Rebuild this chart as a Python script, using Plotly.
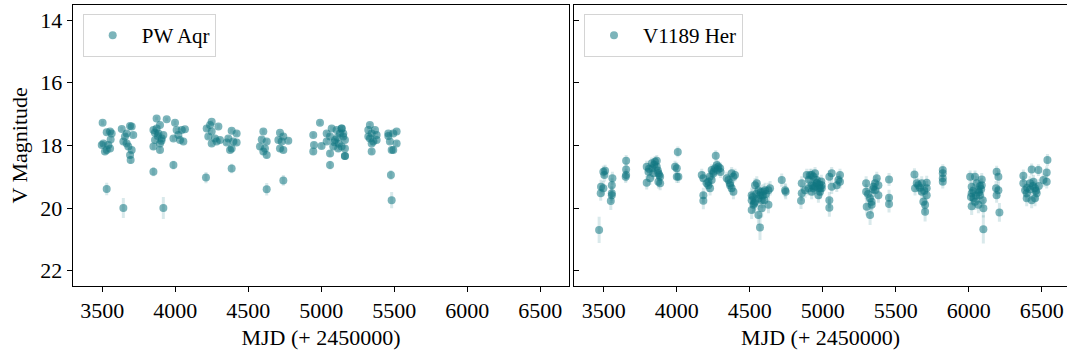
import plotly.graph_objects as go

# ---------------- PW Aqr (left panel) ----------------
pw_mjd = [3502, 3530, 3553, 3557, 3507, 3541, 3530, 3518, 3553, 3530, 3564, 3496,
          3633, 3655, 3690, 3701, 3644, 3667, 3678, 3701, 3690, 3694, 3644, 3712, 3667,
          3872, 3895, 3850, 3884, 3918, 3861, 3895, 3941, 3850, 3895, 3850, 3918, 3907, 3872,
          3880, 3905, 3860,
          3998, 4009, 4044, 4066, 4021, 3987, 4055, 3987, 4032,
          4249, 4215, 4249, 4226, 4272, 4283, 4295, 4249, 4210, 4238, 4306,
          4386, 4420, 4363, 4352, 4397, 4386, 4420, 4386, 4375,
          4603, 4592, 4626, 4580, 4603, 4626, 4626, 4614,
          4717, 4740, 4729, 4774, 4717, 4740, 4740, 4706,
          4945, 4950, 4945, 5002, 4991,
          5037, 5071, 5105, 5140, 5060, 5082, 5116, 5150, 5162, 5162, 5060, 5060, 5128, 5037, 5094,
          5090, 5110, 5120,
          5139, 5151, 5162, 5139, 5162,
          5333, 5322, 5345, 5379, 5333, 5356, 5379, 5345, 5322, 5368, 5345,
          5459, 5493, 5516, 5470, 5516, 5493, 5482, 5477, 5482, 5459]
pw_mag = [17.28, 17.58, 17.56, 17.81, 17.94, 17.99, 18.15, 18.20, 18.10, 19.39, 17.62, 17.99,
          17.48, 17.72, 17.38, 17.40, 17.88, 17.94, 18.04, 18.15, 18.31, 18.47, 20.00, 17.67, 17.62,
          17.14, 17.35, 17.51, 17.62, 17.67, 17.83, 17.94, 17.17, 18.04, 18.15, 18.84, 20.00, 17.78, 17.46,
          17.70, 17.85, 17.60,
          17.28, 17.51, 17.51, 17.49, 17.67, 17.78, 17.88, 18.63, 17.83,
          17.25, 17.46, 17.56, 17.72, 17.78, 17.88, 17.40, 17.94, 19.03, 17.35, 17.83,
          17.53, 17.62, 17.78, 17.91, 17.88, 18.10, 17.91, 18.74, 18.15,
          17.56, 17.81, 17.88, 18.04, 18.20, 18.31, 19.40, 18.10,
          17.60, 17.72, 17.88, 17.85, 18.10, 18.15, 19.12, 17.83,
          17.67, 17.99, 18.20, 18.02, 17.28,
          17.88, 17.46, 17.51, 17.46, 17.72, 18.04, 18.10, 17.72, 18.10, 18.34, 18.26, 18.63, 17.62, 17.62, 17.83,
          17.90, 17.75, 17.95,
          17.46, 17.62, 17.83, 18.04, 18.34,
          17.35, 17.51, 17.62, 17.67, 17.78, 17.88, 17.83, 18.20, 17.72, 17.51, 17.94,
          17.62, 17.62, 17.56, 17.88, 17.94, 18.15, 18.15, 18.95, 19.75, 17.70]
pw_err = [0.07, 0.07, 0.07, 0.08, 0.08, 0.08, 0.09, 0.09, 0.09, 0.20, 0.07, 0.08,
          0.07, 0.08, 0.07, 0.07, 0.08, 0.08, 0.09, 0.09, 0.10, 0.12, 0.32, 0.08, 0.07,
          0.06, 0.07, 0.07, 0.07, 0.08, 0.08, 0.08, 0.06, 0.09, 0.09, 0.15, 0.35, 0.08, 0.07,
          0.08, 0.08, 0.07,
          0.07, 0.07, 0.07, 0.07, 0.08, 0.08, 0.08, 0.14, 0.08,
          0.06, 0.07, 0.07, 0.08, 0.08, 0.08, 0.07, 0.08, 0.18, 0.07, 0.08,
          0.07, 0.07, 0.08, 0.08, 0.08, 0.09, 0.08, 0.15, 0.09,
          0.07, 0.08, 0.08, 0.09, 0.09, 0.10, 0.20, 0.09,
          0.07, 0.08, 0.08, 0.08, 0.09, 0.09, 0.17, 0.08,
          0.08, 0.09, 0.09, 0.09, 0.07,
          0.08, 0.07, 0.07, 0.07, 0.08, 0.09, 0.09, 0.08, 0.09, 0.10, 0.10, 0.14, 0.07, 0.07, 0.08,
          0.09, 0.08, 0.09,
          0.07, 0.07, 0.08, 0.09, 0.10,
          0.07, 0.07, 0.07, 0.08, 0.08, 0.08, 0.08, 0.09, 0.08, 0.07, 0.08,
          0.07, 0.07, 0.07, 0.08, 0.08, 0.09, 0.09, 0.16, 0.26, 0.07]

# ---------------- V1189 Her (right panel) ----------------
vh_mjd = [3468, 3481, 3479, 3497, 3504, 3509, 3497,
          3559, 3555, 3555, 3555, 3548,
          3653, 3653, 3653, 3650,
          3794, 3806, 3829, 3851, 3863, 3840, 3874, 3886, 3794, 3817, 3874, 3886, 3863, 3833,
          3810, 3845, 3870, 3880,
          4007, 3988, 4000, 4000, 4011,
          4171, 4182, 4182, 4182, 4205, 4216, 4228, 4239, 4251, 4262, 4274, 4285, 4297, 4267, 4239, 4216,
          4250, 4280, 4300, 4225,
          4342, 4354, 4365, 4376, 4376, 4388, 4399, 4365, 4388,
          4513, 4513, 4525, 4513, 4536, 4548, 4559, 4570, 4582, 4582, 4593, 4605, 4559, 4570, 4536, 4628, 4639, 4628,
          4520, 4545, 4560, 4575, 4590, 4610, 4530, 4600,
          4719, 4742, 4746,
          4856, 4856, 4851, 4890, 4913, 4936, 4959, 4947, 4981, 4993, 4970, 4902, 4879, 4924,
          4924, 4947, 4959, 4970, 4981, 4993, 4936, 4924,
          4960, 4975, 4990, 4935, 4905,
          5045, 5061, 5061, 5045, 5045, 5096, 5107, 5118, 5118,
          5297, 5297, 5301, 5324, 5335, 5335, 5324, 5347, 5358, 5370, 5381, 5381, 5358,
          5310, 5345,
          5454, 5454, 5454,
          5628, 5644, 5632, 5678, 5678, 5701, 5701, 5712, 5712, 5712, 5689, 5655,
          5665, 5695,
          5822, 5822, 5822, 5822,
          6009, 6020, 6020, 6032, 6020, 6043, 6055, 6066, 6077, 6089, 6089, 6096, 6100, 6100, 6066, 6043, 6077,
          6030, 6050, 6070, 6085, 6015,
          6191, 6203, 6187, 6203, 6191, 6210,
          6374, 6374, 6386, 6397, 6420, 6431, 6443, 6454, 6465, 6454, 6431, 6477, 6511, 6534, 6534, 6539, 6397,
          6440, 6460, 6420, 6480, 6400]
vh_mag = [20.70, 19.32, 19.53, 18.84, 18.95, 18.81, 19.37,
          19.05, 19.27, 19.53, 19.59, 19.78,
          18.49, 18.77, 18.95, 19.00,
          18.68, 18.84, 18.57, 18.52, 18.68, 18.89, 18.89, 19.00, 19.19, 19.05, 19.16, 19.21, 18.49, 18.73,
          18.75, 18.62, 18.80, 18.95,
          18.21, 18.68, 18.73, 19.00, 19.00,
          18.95, 19.05, 19.59, 19.77, 19.21, 19.27, 19.37, 18.79, 18.84, 18.73, 18.63, 18.68, 18.73, 18.33, 19.11, 19.16,
          18.90, 18.78, 18.85, 19.00,
          19.05, 19.11, 19.27, 19.37, 18.89, 19.00, 18.95, 19.21, 19.48,
          19.59, 19.75, 19.90, 20.06, 19.27, 19.21, 19.43, 19.59, 19.75, 20.01, 19.48, 19.43, 20.22, 20.62, 19.80, 19.43, 19.37, 19.90,
          19.65, 19.55, 19.70, 19.50, 19.60, 19.55, 19.85, 19.75,
          19.11, 19.43, 19.48,
          19.21, 19.53, 19.77, 18.95, 18.95, 19.00, 19.11, 19.32, 19.37, 19.27, 19.59, 19.37, 19.43, 19.48,
          18.95, 18.89, 19.21, 19.37, 19.48, 19.37, 19.37, 19.27,
          19.20, 19.25, 19.15, 19.30, 19.10,
          19.00, 18.89, 19.32, 19.75, 19.99, 19.27, 19.11, 18.95, 19.16,
          19.21, 19.48, 19.96, 19.69, 19.80, 19.90, 20.22, 19.32, 19.21, 19.05, 19.27, 19.59, 19.43,
          19.55, 19.40,
          19.09, 19.67, 19.87,
          18.93, 19.21, 19.37, 19.21, 19.48, 19.90, 20.12, 19.19, 19.37, 19.59, 19.80, 19.27,
          19.35, 19.45,
          18.79, 18.89, 19.05, 19.16,
          19.00, 19.32, 19.53, 19.69, 19.94, 19.00, 19.21, 19.43, 19.59, 19.09, 19.27, 19.75, 20.01, 20.68, 19.90, 19.80, 19.30,
          19.45, 19.60, 19.50, 19.40, 19.65,
          18.84, 19.00, 19.37, 19.43, 19.59, 20.14,
          18.97, 19.21, 19.43, 19.53, 19.21, 18.77, 19.16, 19.37, 19.53, 19.69, 19.75, 18.79, 19.11, 19.16, 18.87, 18.47, 19.69,
          19.30, 19.45, 19.40, 19.30, 19.35]
vh_err = [0.42, 0.22, 0.24, 0.19, 0.20, 0.19, 0.23,
          0.21, 0.22, 0.24, 0.25, 0.28,
          0.18, 0.19, 0.20, 0.20,
          0.19, 0.19, 0.18, 0.18, 0.19, 0.20, 0.20, 0.21, 0.22, 0.21, 0.22, 0.22, 0.18, 0.19,
          0.19, 0.18, 0.19, 0.20,
          0.17, 0.19, 0.19, 0.20, 0.20,
          0.20, 0.21, 0.24, 0.27, 0.22, 0.22, 0.23, 0.19, 0.19, 0.19, 0.18, 0.19, 0.19, 0.17, 0.21, 0.22,
          0.20, 0.19, 0.19, 0.20,
          0.21, 0.21, 0.22, 0.23, 0.20, 0.20, 0.20, 0.22, 0.24,
          0.24, 0.26, 0.27, 0.29, 0.22, 0.22, 0.24, 0.24, 0.26, 0.29, 0.24, 0.24, 0.32, 0.40, 0.27, 0.24, 0.23, 0.27,
          0.25, 0.24, 0.26, 0.24, 0.25, 0.24, 0.27, 0.26,
          0.21, 0.23, 0.24,
          0.22, 0.24, 0.26, 0.20, 0.20, 0.20, 0.21, 0.23, 0.23, 0.22, 0.24, 0.23, 0.24, 0.24,
          0.20, 0.20, 0.22, 0.23, 0.24, 0.23, 0.23, 0.22,
          0.22, 0.22, 0.21, 0.23, 0.21,
          0.20, 0.20, 0.23, 0.26, 0.29, 0.22, 0.21, 0.20, 0.22,
          0.22, 0.24, 0.28, 0.26, 0.27, 0.28, 0.32, 0.23, 0.22, 0.21, 0.22, 0.24, 0.23,
          0.25, 0.24,
          0.21, 0.25, 0.27,
          0.20, 0.22, 0.23, 0.22, 0.24, 0.28, 0.31, 0.22, 0.23, 0.24, 0.27, 0.22,
          0.23, 0.24,
          0.19, 0.20, 0.21, 0.22,
          0.20, 0.23, 0.24, 0.26, 0.28, 0.20, 0.22, 0.24, 0.24, 0.21, 0.22, 0.26, 0.29, 0.45, 0.27, 0.26, 0.23,
          0.24, 0.25, 0.24, 0.23, 0.25,
          0.19, 0.20, 0.23, 0.24, 0.24, 0.30,
          0.20, 0.22, 0.24, 0.24, 0.22, 0.19, 0.21, 0.23, 0.24, 0.25, 0.26, 0.19, 0.21, 0.22, 0.20, 0.19, 0.25,
          0.22, 0.24, 0.23, 0.22, 0.23]

names = ["PW Aqr", "V1189 Her"]
x_ticks = [3500, 4000, 4500, 5000, 5500, 6000, 6500]
y_ticks = [14, 16, 18, 20, 22]

TEAL = "rgba(17,118,130,0.55)"
ERR = "rgba(17,118,130,0.16)"
FONT = "Liberation Serif"

fig = go.Figure()
fig.add_trace(go.Scatter(
    x=pw_mjd, y=pw_mag, mode="markers", name=names[0],
    marker=dict(color=TEAL, size=8, line=dict(width=0)),
    error_y=dict(type="data", array=pw_err, color=ERR, thickness=3, width=0),
    xaxis="x", yaxis="y", legend="legend", showlegend=True))
fig.add_trace(go.Scatter(
    x=vh_mjd, y=vh_mag, mode="markers", name=names[1],
    marker=dict(color=TEAL, size=8, line=dict(width=0)),
    error_y=dict(type="data", array=vh_err, color=ERR, thickness=3, width=0),
    xaxis="x2", yaxis="y2", legend="legend2", showlegend=True))

W, H = 1067, 356
left0, left1 = 72.7 / W, 569.3 / W
right0 = 574.3 / W
ybot, ytop = 1 - 285.7 / H, 1 - 5 / H

axis_common = dict(showline=True, linecolor="black", linewidth=1.2, showgrid=False,
                   zeroline=False, ticks="outside", ticklen=5, tickwidth=1.2,
                   tickcolor="black", tickfont=dict(family=FONT, size=22, color="black"))

legend_common = dict(y=1 - 14 / H, xanchor="left", yanchor="top",
                     bgcolor="rgba(255,255,255,0.8)", bordercolor="#d4d4d4", borderwidth=1,
                     font=dict(family=FONT, size=21, color="black"), itemwidth=48)

fig.update_layout(
    width=W, height=H,
    margin=dict(l=0, r=0, t=0, b=0),
    paper_bgcolor="white", plot_bgcolor="white",
    font=dict(family=FONT, size=22, color="black"),
    showlegend=True,
    xaxis=dict(domain=[left0, left1], range=[3297, 6699], tickvals=x_ticks,
               mirror=True, anchor="y",
               title=dict(text="MJD (+ 2450000)", font=dict(family=FONT, size=22), standoff=7),
               automargin=False, **axis_common),
    yaxis=dict(domain=[ybot, ytop], range=[22.48, 13.52], tickvals=y_ticks,
               mirror=True, anchor="x",
               title=dict(text="V Magnitude", font=dict(family=FONT, size=22), standoff=6),
               automargin=False, **axis_common),
    xaxis2=dict(domain=[right0, 1.0], range=[3298, 6673], tickvals=x_ticks,
                mirror=True, anchor="y2",
                title=dict(text="MJD (+ 2450000)", font=dict(family=FONT, size=22), standoff=7),
                automargin=False, **axis_common),
    yaxis2=dict(domain=[ybot, ytop], range=[22.48, 13.52], tickvals=y_ticks,
                anchor="x2", showticklabels=False, automargin=False,
                showline=True, linecolor="black", linewidth=1.2, showgrid=False,
                zeroline=False, ticks="inside", ticklen=5, tickwidth=1.2, tickcolor="black"),
    legend=dict(x=82.7 / W, **legend_common),
    legend2=dict(x=584 / W, **legend_common),
)

fig.write_html("out.html")
